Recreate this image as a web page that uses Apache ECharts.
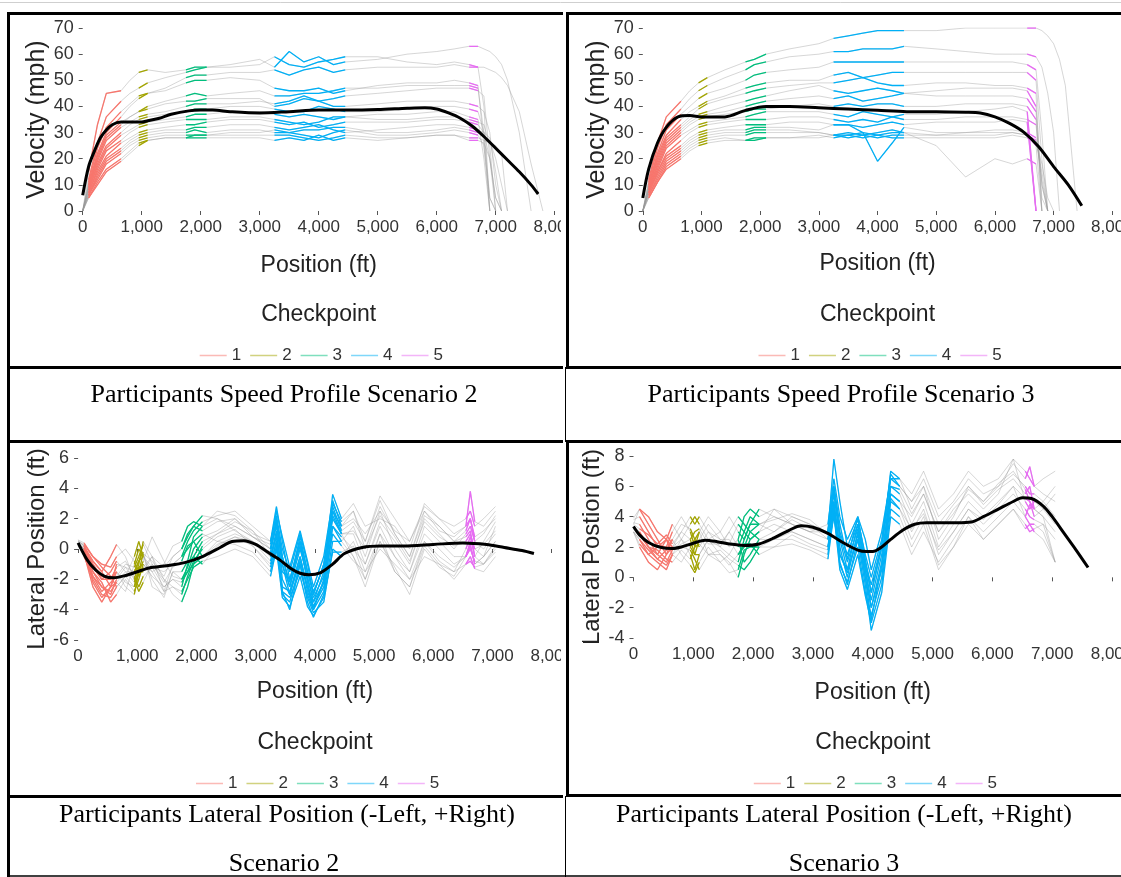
<!DOCTYPE html>
<html>
<head>
<meta charset="utf-8">
<title>Participants Speed Profile / Lateral Position</title>
<script src="https://cdn.jsdelivr.net/npm/echarts@6.0.0/dist/echarts.min.js"></script>
<style>
  html, body { margin: 0; padding: 0; background: #fff; }
  #main { width: 1121px; height: 877px; }
</style>
</head>
<body>
<div id="main"></div>
<script>
// ================= data =================

// checkpoints (legend) and the position windows where each one is coloured
var CHECKPOINTS = ['1', '2', '3', '4', '5'];
var CP_COLORS = ['#F8766D', '#A3A500', '#00BF7D', '#00B0F6', '#E76BF3'];
var ZONES = [[100, 650], [950, 1100], [1750, 2100], [3250, 4450], [6550, 6700]];

// positions (ft) at which each participant run was read
var SPEED_X = [0, 100, 250, 400, 650, 800, 950, 1100, 1400, 1750, 1900, 2100, 2500, 3000, 3250, 3500, 3750, 4000, 4250, 4450,
               5000, 5500, 6000, 6300, 6550, 6700, 6800, 6900, 7000, 7100, 7200, 7400, 7600, 7800];
var LAT_X = [0, 100, 250, 400, 550, 650, 800, 950, 1025, 1100, 1250, 1450, 1600, 1750, 1850, 1950, 2100, 2350, 2650, 2950,
             3250, 3350, 3450, 3575, 3750, 3875, 3975, 4150, 4300, 4450, 4650, 4850, 5100, 5350, 5600, 5850, 6100, 6350,
             6550, 6625, 6700, 6850, 7050];

// Speed profile scenario 2 (mph)
var speed2Runs = [
  [0,15,33,45,46,50,53,54,53,54,55,55,56,58,55,61,57,59,56,57,58,60,61,62,63,63,62,61,59,56,50,30,0],
  [0,12,26,36,42,45,47,49,51,53,54,55,55,56,59,56,55,57,58,59,59,57,56,57,56,55,55,54,53,51,48,38,18,0],
  [0,10,22,30,36,40,43,45,47,51,52,52,53,53,54,52,54,55,53,54,55,55,55,56,55,55,40,0],
  [0,11,24,32,38,41,44,45,46,49,50,50,51,50,47,46,46,47,45,46,48,49,49,50,49,48,25,0],
  [0,9,20,28,33,36,38,40,42,44,45,44,45,46,44,44,45,45,46,47,47,48,48,48,48,47,30,5,0],
  [0,10,21,29,34,36,38,39,41,42,42,43,43,43,40,41,43,42,43,44,45,46,47,47,47,46,44,20,0],
  [0,9,19,27,32,34,36,37,38,40,41,41,41,42,41,42,44,42,40,40,41,42,42,42,41,40,38,30,10,0],
  [0,8,18,25,30,33,35,36,37,38,39,39,40,40,39,38,38,40,39,38,38,39,40,40,39,38,30,0],
  [0,8,17,24,29,31,33,34,35,36,37,37,38,38,37,36,37,36,35,36,37,37,38,38,36,35,20,0],
  [0,7,16,23,27,30,32,33,34,35,35,35,36,36,35,34,33,34,36,36,35,35,36,36,35,34,33,25,0],
  [0,7,15,21,26,28,30,31,32,33,33,34,35,35,34,33,34,32,33,34,34,34,35,35,34,33,30,20,5,0],
  [0,6,14,20,24,27,29,30,31,31,32,32,33,33,32,31,32,33,31,30,31,32,33,33,32,31,30,28,15,0],
  [0,6,13,19,23,26,28,29,30,30,31,30,31,31,30,30,31,31,32,32,30,30,31,32,31,30,29,27,20,10,0],
  [0,6,12,18,22,25,27,28,29,29,29,29,30,30,31,30,29,28,30,31,29,29,30,31,30,29,25,5,0],
  [0,5,11,16,20,23,26,27,28,28,29,29,29,29,29,29,28,27,28,29,28,28,29,29,28,28,27,26,25,22,0],
  [0,5,10,15,19,22,25,27,28,28,28,28,28,28,27,28,27,29,27,28,27,28,29,29,27,27,26,20,5,0]
];
var speed2MeanX = [0,100,200,300,400,500,650,800,1000,1100,1300,1500,1800,2000,2200,2500,3000,3500,4000,4500,5000,5500,5800,6000,6200,6400,6600,6800,7000,7200,7400,7600,7720];
var speed2MeanV = [6,17,23,28,31,33,34,34,34,34.5,35.5,37,38.3,38.6,38.6,38,37.5,38,38.6,38.6,38.8,39.3,39.5,39,37.5,35.5,32.5,28.5,24,19.5,15,10,6.5];

// Speed profile scenario 3 (mph)
var speed3Runs = [
  [0,12,26,36,42,46,49,51,54,57,58,60,62,64,66,67,68,69,69,69,69,70,70,70,70,70,69,67,64,58,48,0],
  [0,11,24,33,39,43,46,48,51,54,56,57,59,60,61,61,62,62,62,63,62,61,60,60,60,59,55,45,30,0],
  [0,10,22,31,37,40,43,45,47,50,52,53,54,55,57,57,57,57,57,57,57,57,57,57,56,54,30,0],
  [0,10,21,29,35,38,40,42,44,47,48,49,50,50,52,53,51,52,53,53,53,53,53,53,53,50,20,0],
  [0,9,20,28,33,36,39,41,43,45,46,47,48,49,49,50,51,49,48,48,49,49,48,48,47,45,0],
  [0,9,19,27,32,35,37,38,40,42,43,44,46,48,46,45,46,47,46,45,46,47,47,47,46,40,10,0],
  [0,8,18,26,31,34,36,37,38,40,41,42,43,44,43,44,42,43,44,45,44,44,44,44,43,38,0],
  [0,8,17,25,30,33,35,36,37,38,39,39,40,41,40,41,40,41,41,40,40,41,41,41,40,35,5,0],
  [0,8,16,24,29,31,33,34,35,36,37,38,38,38,37,36,38,37,36,37,37,38,39,40,38,0],
  [0,7,15,22,27,30,32,33,34,35,35,35,36,36,35,34,35,34,36,35,35,36,36,36,35,33,10,0],
  [0,7,15,21,25,28,30,31,32,33,33,33,34,34,33,33,32,33,34,33,34,34,34,35,34,0],
  [0,7,14,20,24,27,29,30,31,31,32,32,32,31,33,33,30,19,26,32,30,30,31,31,30,28,12,0],
  [0,6,13,19,23,26,28,29,30,30,31,31,31,30,29,30,29,30,31,30,25,13,20,18,20,18,0],
  [0,6,12,18,22,25,27,28,29,29,30,30,30,30,29,29,30,29,30,30,29,30,30,30,29,27,15,0],
  [0,5,11,17,21,24,26,27,28,27,28,28,28,29,28,29,28,29,28,28,28,28,28,29,28,26,18,5,0],
  [0,5,11,16,20,23,25,26,27,27,27,28,28,28,29,28,29,28,29,29,29,29,29,30,29,25,0]
];
var speed3MeanX = [0,100,250,400,600,800,1000,1400,1750,2100,2500,3000,3500,4000,4500,5000,5500,5750,6000,6250,6500,6750,7000,7250,7480];
var speed3MeanV = [5,16,26,32,36,36.5,36,36,38.5,40,40,39.5,39,38.5,38,38,37.8,37.5,36,33.5,30,24.5,17,10,2];

// Lateral position scenario 2 (ft, -left / +right)
var lat2Runs = [
  [0.5,0.2,-0.8,-1.5,-0.5,0.3,-0.5,-2,-1,0.5,-0.5,-2.8,-1,-0.5,0.5,1.2,1.8,2.2,2.5,1.5,0.5,2.8,0.5,-2,0.5,-1.5,-3,-1,2.5,1.5,2.5,0.5,3.2,1,-0.5,2.5,1.5,0.5,1.2,2,0.5,1,2.2],
  [0.3,-0.5,-1.8,-2.5,-3,-2,-1.2,-1.5,-0.8,-0.2,-2.5,-3,-1.5,-2,-1.5,-0.5,0.5,1,1.5,0.8,0,1.5,-1,-3,-0.5,-2.5,-4,-2,2,1,-0.5,-2,1,-1.5,-2.5,0.5,-0.8,-1.5,0,0.8,-0.5,-1,0],
  [0.2,-0.3,-2.5,-3.5,-2.5,-1.5,-2.5,-3,-1.5,-1.5,-0.5,-2,-3,-3.5,-2.5,-1,0.2,1,1.8,1.2,-0.5,0.8,-3,-3.5,-1,-3.5,-4.5,-3,0.5,0.5,1.5,-0.5,2.5,0,-1.5,1.5,0.5,-0.5,-0.5,0.3,-1,-0.5,0.5],
  [0.6,0.4,-0.5,-1.2,-1.8,-2.5,-1.8,-0.5,0.5,-0.5,-1.5,-1,0.2,0.5,1.5,1.8,1.5,2,1.2,0.5,-0.2,1.8,-0.5,-2.5,0,-1.8,-3.5,-1.5,3.6,2,3,1.5,2,1.5,0,3,2,1,1.5,3.8,1.8,1.5,2.5],
  [0.4,0,-1.5,-2.2,-3.5,-3,-2,-2.8,-2,-1,-1.8,-2.5,-2,-2.5,-1,-0.5,-1,0.2,0.8,0.2,-1,0.5,-2.5,-2.8,-0.5,-2.8,-3.8,-2.5,1,0.2,-0.8,-1.5,0,-1,-2,-0.5,-1,-2,-1,-0.5,-1.3,-1.5,-0.5],
  [0.2,-0.2,-1,-2,-1.5,-0.8,-1.5,-2.2,-1.5,-0.8,0.8,-0.8,-1.8,-2,-1.2,0,0.8,1.2,2,1,0.5,2.2,0,-1.5,1,-1,-3,-1,2.8,1.2,1.8,0.5,3.5,2,0.5,2.8,2,1.5,2,2.5,1.5,2,2.8],
  [0.5,0.2,-1.2,-2,-2,-1.2,-0.8,-1.8,-2.5,-1.8,-1.2,-1.5,-1,-0.5,0,0.5,1,0.5,0.3,-0.2,-1.5,0.2,-2.8,-3.2,-1.5,-3,-4,-2.8,1.5,0.8,0,-1,1.5,-0.5,-1.5,1,0,-1,-0.5,0.5,0,-0.5,1.5],
  [0.3,0,-1.8,-2.8,-2.2,-1.8,-1,-1.2,-0.5,0.3,-1,-2.2,-1.2,-0.8,0.2,0.5,-0.5,0.5,1,0.5,-0.8,1,-1.5,-2,0.2,-2,-3.2,-1.8,2.2,1,1,-1,1.8,0.5,-1,2,1,0,1,1.5,0.5,0,1],
  [0.4,0.1,-0.8,-1.5,-2.5,-2.2,-2.8,-1,0,-0.5,-2,-3.2,-1.5,-1.5,-0.8,0.8,1.5,2.5,2.2,1.2,0,1.8,-1,-2.5,0.5,-2.2,-3.8,-2.2,3,1.8,2.5,0,2.8,1,-0.5,2.2,1.5,0.5,0.8,1.2,-0.5,0.5,1.8],
  [0.2,-0.4,-2,-3,-3.2,-2.5,-1.8,-2.5,-1.2,-1,-1.5,-2.8,-2.5,-3,-1.8,-0.8,0,0.8,1.3,0.2,-1.2,0.5,-2.8,-4,-1,-3.2,-4.2,-3.5,0,-0.5,0.5,-1.5,1,-0.5,-2,0.5,-0.5,-1.2,-0.5,0,-0.8,-1,0.2],
  [0.5,0.3,-0.5,-1,-1.2,-0.5,0,-0.8,-1.8,-1.2,-0.5,-1.2,-0.5,0,0.8,1.5,2.2,2,1.5,0.8,0.3,2.5,0.8,-1.2,1.2,-0.8,-2.5,-0.5,3.2,1.5,2,1,2.5,1.2,0.5,2.5,1.2,0.8,1.5,2,0.8,1.2,2],
  [0.3,0,-1.5,-2.5,-2.8,-2.2,-1.5,-1.5,-0.8,-0.5,-1.2,-2.5,-2,-2.2,-1.5,-1,-0.5,0.3,0.8,0.5,-0.5,1.2,-2,-3,-0.8,-2.5,-3.5,-2.2,1.5,0.5,-0.5,-2.5,0.5,-1.2,-3,0,-1.2,-1.8,-0.5,0.2,-1,-0.5,0.5],
  [0.6,0.2,-1,-1.8,-2,-1.5,-2.2,-2.5,-1.5,-0.3,-0.8,-1.8,-0.5,0,1,1.5,1.2,1.8,2,0.8,0,2,-0.5,-2.2,0.8,-1.5,-2.8,-1.2,2.5,1,1.2,0,2.2,0.8,-0.8,1.8,0.8,0.2,0.5,1,0,0.3,1.2],
  [0.4,0,-2.2,-3.2,-2.5,-1,-1.2,-2,-2.8,-2.2,-1,-2,-2.5,-2.8,-2,-1.2,-0.8,-0.5,0,-0.5,-1.8,0,-3.2,-3.8,-1.8,-3.8,-4.4,-3.2,-0.2,-0.2,0.2,-2,0.5,-1.5,-2.5,0.2,-1,-1.5,-1,-0.8,-1.2,-1,-0.2]
];
var lat2MeanX = [0,150,300,450,600,800,1000,1200,1500,1800,2100,2400,2600,2800,3000,3200,3400,3600,3750,3900,4100,4300,4500,4800,5100,5500,6000,6500,6900,7200,7500,7700];
var lat2MeanV = [0.4,-0.7,-1.4,-1.8,-1.9,-1.75,-1.5,-1.25,-1.1,-0.9,-0.5,0.1,0.5,0.55,0.3,-0.2,-0.7,-1.3,-1.6,-1.7,-1.55,-1.0,-0.3,0.1,0.2,0.2,0.3,0.4,0.3,0.1,-0.1,-0.3];

// Lateral position scenario 3 (ft, -left / +right)
var lat3Runs = [
  [3.5,4.5,3.5,2.5,1.5,2,3,4,3.5,4,3,2,3,4,3.5,3,2.5,3,4,3.5,3,7.8,5,2,3.8,1.5,0,2.5,6.5,6,5,6.5,4,5,6.5,5.5,6,7.5,6.5,7.3,6,5.5,5],
  [3,2.5,1.5,1,0.5,1.5,2.5,1.5,0.5,1.5,2.5,1.5,1,0,1.5,2.5,3,3.5,3,2.5,2,5,1,-0.5,2.5,-0.5,-3.5,-1,4,3.5,1.5,3,1,2.5,4,2.5,3.5,4.5,3.5,3,3.2,3.5,1],
  [3.8,4,3,2,2,3,4,3,2,3,4,3,2,2.5,4,4.5,4,4.5,3.5,3,2.5,5.5,2.5,0.5,3.5,0.5,-1.5,1.5,5.5,5,4,5.5,3,4.5,5.5,4.5,5.5,7.8,5,4.5,5,4.5,3.5],
  [3.2,3,2,1.5,1,1.8,2.2,2.5,1.5,1.5,2.5,2,1.5,1,2.5,3.5,3.5,3,3.8,3.2,3,6,3.5,1.2,4,1.2,-1,2,7,6.5,4.5,6,2.5,4,6,4.8,5.8,6.5,5.5,6,4.5,4,3],
  [3,2,1,0.5,1.5,2.5,1.5,0.8,0.3,1,2,1,0.3,0.5,1.8,2,2,2.5,2.5,2,1.5,4.5,0.8,-0.3,2,-1,-2.5,0,5,4.5,2.5,4,0.8,2,4,3,4,5,4,3.5,3.5,3,1],
  [3.6,3.5,2.5,1.5,2.5,3.5,2.5,2,1.5,2.5,3.5,2.5,2.2,3.5,3,2.5,3,4.5,4,3.5,2.5,5,2,0,3,0,-2,1,6,5.5,3.5,5,2,3.5,5,4,5,6,5.2,5,4,4.5,5.5],
  [3.4,3,2,1.2,1.8,2.5,3.5,3.2,2.5,2,3,2.5,2.5,1.5,2,3,3.5,4,3.5,3,3,5.8,3,1.5,3.5,1,-0.5,2.2,6.8,6,5,6,3.5,4.8,6,5,6.2,7,5.8,5,4.5,5,6],
  [3,2.2,1.5,2,2.5,1.5,1,2,2.5,3,1.5,1,1.5,2.5,1,1.5,2.5,2.5,3,2.5,2,4,1.5,0.5,2.5,0.5,-2,0.5,5.5,5,3,4.5,1.5,3,4.5,3.5,4.5,5.5,4.5,4,3.8,3.5,2.5],
  [3.9,4.5,4,3,2.5,2,2.5,3.5,4,3.5,2.5,3,4,3,2.5,3.5,4.5,4,3.5,3,3.5,6.5,4,2.5,4,2.5,0.5,3,6.5,6.5,5.5,7,4.5,5.5,7,6,6.5,7.8,7,6.5,6,6.5,7],
  [3.2,2.8,2,1.8,1.2,1,1.8,1.2,2,2.2,1.5,1.8,1.2,0.8,0.5,1,2,2,2.2,1.8,1.2,4.2,0.5,-0.8,1.5,-1.2,-3,-0.5,4.5,4,2,3.5,0.5,2,3.5,2.5,3.5,4.5,3.2,3.5,3,2.5,1],
  [3.5,3.2,2.8,2.2,2.8,2.2,3,2.5,3,3.2,2.2,2.2,3,2,3,4,3.5,3.8,4.2,3.8,2.8,6,2.8,1,3.2,0.8,-1,2,6,5.8,4.2,5.5,3,4.2,5.8,5,6,6.8,6,5.5,5.5,5,4],
  [3,2.5,1.8,1.2,0.8,1.5,2,1.8,1.2,0.5,1.5,1.5,0.8,1.5,2.2,2.2,1.5,2,2.8,2.2,1.8,4.8,1.5,0.3,2.8,0,-2.8,0.8,5.2,4.5,3.2,4.2,1.8,3,4.5,3.8,4.8,6,4,4.8,4.5,4,1]
];
var lat3MeanX = [0,100,250,450,650,800,1000,1200,1400,1600,1850,2100,2350,2600,2800,3000,3250,3500,3750,3900,4000,4150,4300,4500,4700,4900,5100,5400,5650,5850,6100,6350,6500,6650,6850,7000,7200,7400,7600];
var lat3MeanV = [3.35,2.8,2.3,1.98,1.9,2.0,2.25,2.45,2.35,2.2,2.1,2.2,2.6,3.1,3.4,3.3,2.9,2.3,1.8,1.7,1.7,2.0,2.5,3.1,3.5,3.6,3.6,3.6,3.65,4.0,4.5,5.0,5.25,5.2,4.7,4.0,2.9,1.8,0.65];

// axis ranges / ticks
var SPEED_TICKS = [0, 70, 10];
var LAT2_TICKS = [-6, 6, 2];
var LAT3_TICKS = [-4, 8, 2];

// ================= layout =================
var SANS = "'Liberation Sans Narrow', 'Liberation Sans', Arial, sans-serif";
var SERIF = "'Liberation Serif', 'Times New Roman', serif";

var panels = [
  {grid: {left: 82.7, top: 28, width: 472, height: 183}, xs: SPEED_X, runs: speed2Runs, mx: speed2MeanX, mv: speed2MeanV,
   ticks: SPEED_TICKS, yName: 'Velocity (mph)', ySize: 25, yGap: 27, xGap: 43, cx: 318.7, cpY: 315, lgY: 352},
  {grid: {left: 642.8, top: 28, width: 469.5, height: 183}, xs: SPEED_X, runs: speed3Runs, mx: speed3MeanX, mv: speed3MeanV,
   ticks: SPEED_TICKS, yName: 'Velocity (mph)', ySize: 25, yGap: 29, xGap: 41, cx: 877.5, cpY: 315, lgY: 352},
  {grid: {left: 78.1, top: 458, width: 473.6, height: 182}, xs: LAT_X, runs: lat2Runs, mx: lat2MeanX, mv: lat2MeanV,
   ticks: LAT2_TICKS, yName: 'Lateral Position (ft)', ySize: 24, yGap: 24.5, xGap: 40, cx: 315, cpY: 743, lgY: 780},
  {grid: {left: 633.5, top: 456, width: 478.5, height: 182}, xs: LAT_X, runs: lat3Runs, mx: lat3MeanX, mv: lat3MeanV,
   ticks: LAT3_TICKS, yName: 'Lateral Postion (ft)', ySize: 24, yGap: 25.5, xGap: 43, cx: 872.8, cpY: 743, lgY: 780}
];

var chart = echarts.init(document.getElementById('main'));

var grids = [], xAxes = [], yAxes = [], series = [], legends = [], graphics = [];

panels.forEach(function (p, idx) {
  var g = p.grid;
  g.containLabel = false;
  g.outerBoundsMode = 'none';   // keep the plot box where it is, let "8,000" run off the edge
  grids.push(g);

  xAxes.push({
    gridIndex: idx, type: 'value', min: 0, max: 8000, interval: 1000,
    name: 'Position (ft)', nameLocation: 'middle', nameGap: p.xGap,
    nameTextStyle: {fontFamily: SANS, fontSize: 23, color: '#222'},
    axisLine: {show: false},
    axisTick: {show: true, length: 4, lineStyle: {color: '#555'}},
    splitLine: {show: false},
    axisLabel: {
      margin: 8, fontFamily: SANS, fontSize: 17, color: '#333',
      formatter: function (v) { return v.toLocaleString('en-US'); }
    }
  });

  yAxes.push({
    gridIndex: idx, type: 'value', min: p.ticks[0], max: p.ticks[1], interval: p.ticks[2],
    name: p.yName, nameLocation: 'middle', nameGap: p.yGap,
    nameTextStyle: {fontFamily: SANS, fontSize: p.ySize, color: '#222'},
    axisLine: {show: false},
    axisTick: {show: true, length: 4, lineStyle: {color: '#555'}},
    splitLine: {show: false},
    axisLabel: {margin: 9, fontFamily: SANS, fontSize: 18, color: '#333'}
  });

  // grey participant runs
  p.runs.forEach(function (run) {
    var pts = run.map(function (v, i) { return [p.xs[i], v]; });
    series.push({
      type: 'line', xAxisIndex: idx, yAxisIndex: idx, data: pts,
      symbol: 'none', silent: true, animation: false, z: 1,
      lineStyle: {color: '#9a9a9a', width: 0.9, opacity: 0.45}
    });
    // same run coloured inside each checkpoint window
    ZONES.forEach(function (z, k) {
      var seg = pts.filter(function (d) { return d[0] >= z[0] && d[0] <= z[1]; });
      if (seg.length < 2) return;
      series.push({
        name: CHECKPOINTS[k], type: 'line', xAxisIndex: idx, yAxisIndex: idx, data: seg,
        symbol: 'none', silent: true, animation: false, z: 3,
        itemStyle: {color: CP_COLORS[k]},
        lineStyle: {color: CP_COLORS[k], width: 1.3}
      });
    });
  });

  // black average curve
  series.push({
    type: 'line', xAxisIndex: idx, yAxisIndex: idx,
    data: p.mx.map(function (x, i) { return [x, p.mv[i]]; }),
    symbol: 'none', smooth: 0.3, silent: true, animation: false, z: 5,
    lineStyle: {color: '#000', width: 3}
  });

  legends.push({
    data: CHECKPOINTS, left: p.cx - 124, top: p.lgY - 10,
    icon: 'rect', itemWidth: 27, itemHeight: 1.5, itemGap: 9,
    selectedMode: false,
    itemStyle: {opacity: 0.5},
    textStyle: {fontFamily: SANS, fontSize: 17, color: '#333'}
  });

  graphics.push({
    type: 'text', x: p.cx, y: p.cpY, z: 50,
    style: {text: 'Checkpoint', font: '23px ' + SANS, fill: '#222',
            align: 'center', verticalAlign: 'middle', textAlign: 'center', textVerticalAlign: 'middle'}
  });
});

// captions under the panels
var captions = [
  ['Participants Speed Profile Scenario 2', 284, 395],
  ['Participants Speed Profile Scenario 3', 841, 395],
  ['Participants Lateral Position (-Left, +Right)', 287, 815],
  ['Scenario 2', 284, 864],
  ['Participants Lateral Position (-Left, +Right)', 844, 815],
  ['Scenario 3', 844, 864]
];
captions.forEach(function (c) {
  graphics.push({
    type: 'text', x: c[1], y: c[2], z: 50,
    style: {text: c[0], font: '26px ' + SERIF, fill: '#000',
            align: 'center', verticalAlign: 'middle', textAlign: 'center', textVerticalAlign: 'middle'}
  });
});

// cut the "8,000" labels of the left panels at the cell edge
graphics.push({type: 'rect', z: 60, shape: {x: 561, y: 214, width: 22, height: 30}, style: {fill: '#fff'}});
graphics.push({type: 'rect', z: 60, shape: {x: 561, y: 642, width: 22, height: 30}, style: {fill: '#fff'}});

// table frame
function line(pts, w, col) {
  graphics.push({type: 'polyline', z: 70, shape: {points: pts}, style: {stroke: col || '#000', lineWidth: w, fill: null}});
}
line([[563, 13.5], [8.5, 13.5], [8.5, 367.5], [563, 367.5]], 3);
line([[1125, 13.5], [567.5, 13.5], [567.5, 367.5], [1125, 367.5]], 3);
line([[563, 441.5], [8.5, 441.5], [8.5, 796.5], [563, 796.5]], 3);
line([[1125, 441.5], [567.5, 441.5], [567.5, 795.5], [1125, 795.5]], 3);
line([[8.5, 367], [8.5, 442]], 3);
line([[8.5, 796], [8.5, 877]], 3);
line([[565.5, 367], [565.5, 442]], 1);
line([[565.5, 796], [565.5, 877]], 1);
line([[7, 876], [1121, 876]], 1.5);
line([[0, 2.5], [1121, 2.5]], 1, '#cfcfcf');

chart.setOption({
  backgroundColor: '#fff',
  animation: false,
  grid: grids,
  xAxis: xAxes,
  yAxis: yAxes,
  legend: legends,
  series: series,
  graphic: graphics
});
</script>
</body>
</html>
